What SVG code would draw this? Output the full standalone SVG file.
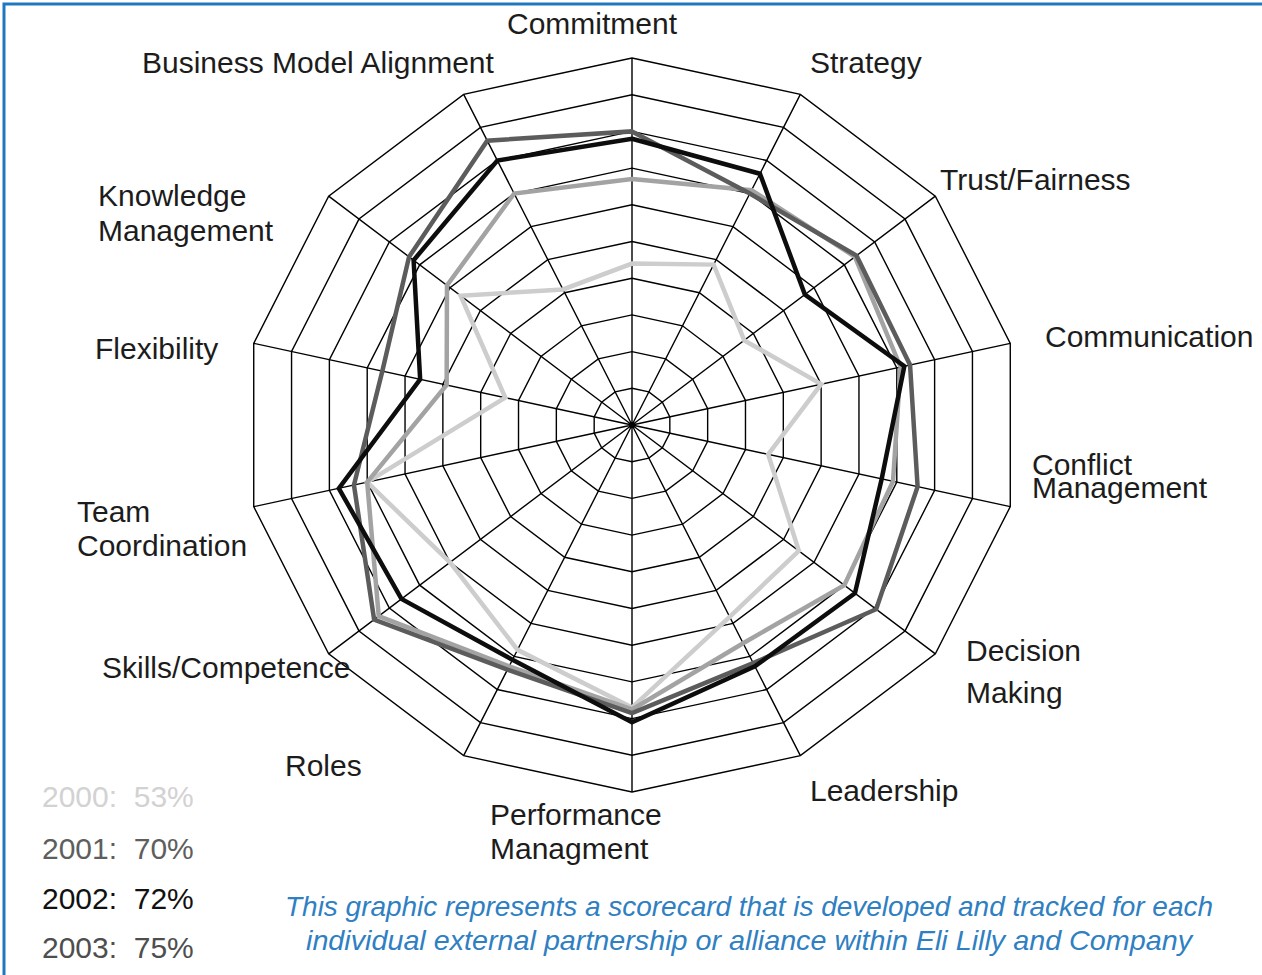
<svg xmlns="http://www.w3.org/2000/svg" xmlns:xlink="http://www.w3.org/1999/xlink" width="1262" height="975" viewBox="0 0 1262 975">
<style>
.grid{fill:none;stroke:#000;stroke-width:1.4;vector-effect:non-scaling-stroke}
.ser{fill:none;stroke-width:4.5;stroke-linejoin:miter;vector-effect:non-scaling-stroke}
.y2000{stroke:#cdcdcd}
.y2001{stroke:#a3a3a3}
.y2002{stroke:#0d0d0d}
.y2003{stroke:#5c5c5c}
.lbl{font-family:"Liberation Sans",Arial,sans-serif;font-size:30px;fill:#1c1c1c}
.leg{font-family:"Liberation Sans",Arial,sans-serif;font-size:30px}
.cap{font-family:"Liberation Sans",Arial,sans-serif;font-size:28px;font-style:italic;fill:#2f80c2}
</style>
<defs>
<polygon id="ring" class="grid" points="0,-100 43.388,-90.097 78.183,-62.349 97.493,-22.252 97.493,22.252 78.183,62.349 43.388,90.097 0,100 -43.388,90.097 -78.183,62.349 -97.493,22.252 -97.493,-22.252 -78.183,-62.349 -43.388,-90.097"/>
</defs>
<rect x="0" y="0" width="1262" height="975" fill="#fff"/>
<path d="M4,975 V4 H1262" fill="none" stroke="#1f78bd" stroke-width="3"/>
<g id="grid" transform="translate(632 425) scale(3.88 3.67)">
<use xlink:href="#ring" href="#ring" transform="scale(0.1)"/>
<use xlink:href="#ring" href="#ring" transform="scale(0.2)"/>
<use xlink:href="#ring" href="#ring" transform="scale(0.3)"/>
<use xlink:href="#ring" href="#ring" transform="scale(0.4)"/>
<use xlink:href="#ring" href="#ring" transform="scale(0.5)"/>
<use xlink:href="#ring" href="#ring" transform="scale(0.6)"/>
<use xlink:href="#ring" href="#ring" transform="scale(0.7)"/>
<use xlink:href="#ring" href="#ring" transform="scale(0.8)"/>
<use xlink:href="#ring" href="#ring" transform="scale(0.9)"/>
<use xlink:href="#ring" href="#ring"/>
<path class="grid" d="M0,0L0,-100M0,0L43.388,-90.097M0,0L78.183,-62.349M0,0L97.493,-22.252M0,0L97.493,22.252M0,0L78.183,62.349M0,0L43.388,90.097M0,0L0,100M0,0L-43.388,90.097M0,0L-78.183,62.349M0,0L-97.493,22.252M0,0L-97.493,-22.252M0,0L-78.183,-62.349M0,0L-43.388,-90.097"/>
</g>
<g id="connectors" transform="translate(632 425) scale(3.88 3.67)">
<polygon class="ser y2000" points="0,-44 21.04,-43.70 28.93,-23.07 48.75,-11.13 35.10,8.01 43.00,34.29 25.17,52.26 0,77 -29.50,61.27 -46.91,37.41 -68.25,15.58 -32.66,-7.45 -44.17,-35.23 -17.79,-36.94"/>
<polygon class="ser y2001" points="0,-67 30.81,-63.97 57.46,-45.83 69.22,-15.80 67.27,15.35 54.73,43.64 28.64,59.46 0,77.5 -31.67,65.77 -65.28,52.06 -68.25,15.58 -47.77,-10.90 -47.69,-38.03 -30.37,-63.07"/>
<polygon class="ser y2003" points="0,-80 30.37,-63.07 57.86,-46.14 71.66,-16.36 73.61,16.80 62.94,50.19 31.24,64.87 0,78.5 -32.11,66.67 -66.46,53.00 -71.66,16.36 -64.35,-14.69 -57.46,-45.83 -37.31,-77.48"/>
<polygon class="ser y2002" points="0,-78 32.97,-68.47 44.56,-35.54 70.19,-16.02 64.35,14.69 57.46,45.83 31.67,65.77 0,81 -30.81,63.97 -59.42,47.39 -75.56,17.25 -54.60,-12.46 -56.29,-44.89 -34.71,-72.08"/>
</g>
<g id="axis-commitment"><text class="lbl" x="507" y="34">Commitment</text></g>
<g id="axis-strategy"><text class="lbl" x="810" y="73">Strategy</text></g>
<g id="axis-trust"><text class="lbl" x="940" y="190">Trust/Fairness</text></g>
<g id="axis-communication"><text class="lbl" x="1045" y="347">Communication</text></g>
<g id="axis-conflict"><text class="lbl" x="1032" y="475">Conflict</text><text class="lbl" x="1032" y="498">Management</text></g>
<g id="axis-decision"><text class="lbl" x="966" y="661">Decision</text><text class="lbl" x="966" y="703">Making</text></g>
<g id="axis-leadership"><text class="lbl" x="810" y="801">Leadership</text></g>
<g id="axis-performance"><text class="lbl" x="490" y="825">Performance</text><text class="lbl" x="490" y="859">Managment</text></g>
<g id="axis-roles"><text class="lbl" x="285" y="776">Roles</text></g>
<g id="axis-skills"><text class="lbl" x="102" y="678">Skills/Competence</text></g>
<g id="axis-team"><text class="lbl" x="77" y="522">Team</text><text class="lbl" x="77" y="556">Coordination</text></g>
<g id="axis-flexibility"><text class="lbl" x="95" y="359">Flexibility</text></g>
<g id="axis-knowledge"><text class="lbl" x="98" y="206">Knowledge</text><text class="lbl" x="98" y="241">Management</text></g>
<g id="axis-bma"><text class="lbl" x="142" y="73">Business Model Alignment</text></g>
<g id="legend">
<text class="leg" x="42" y="807" fill="#d2d2d2" xml:space="preserve">2000:  53%</text>
<text class="leg" x="42" y="859" fill="#5e5e5e" xml:space="preserve">2001:  70%</text>
<text class="leg" x="42" y="909" fill="#111" xml:space="preserve">2002:  72%</text>
<text class="leg" x="42" y="958" fill="#4e4e4e" xml:space="preserve">2003:  75%</text>
</g>
<g id="caption">
<text class="cap" x="285" y="916" textLength="928" lengthAdjust="spacingAndGlyphs">This graphic represents a scorecard that is developed and tracked for each</text>
<text class="cap" x="306" y="950" textLength="886" lengthAdjust="spacingAndGlyphs">individual external partnership or alliance within Eli Lilly and Company</text>
</g>
</svg>
